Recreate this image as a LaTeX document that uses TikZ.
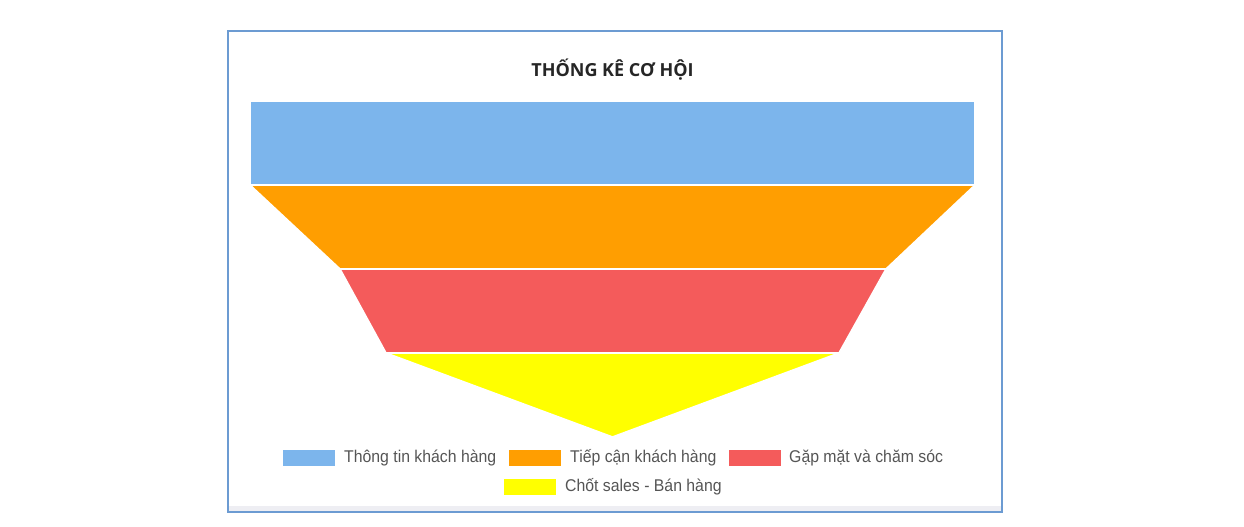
\documentclass[tikz,border=0pt]{standalone}
\usepackage{fontspec}
\setmainfont{Liberation Sans}
\newfontfamily\titlefont{Open Sans}
\newfontfamily\legfont[FakeStretch=0.93]{Liberation Sans}
\definecolor{cblue}{HTML}{7CB5EC}
\definecolor{corange}{HTML}{FF9E01}
\definecolor{cred}{HTML}{F45B5B}
\definecolor{cyellow}{HTML}{FFFF00}
\definecolor{cframe}{HTML}{6C9BD2}
\definecolor{cband}{HTML}{EEEEF3}
\definecolor{ctext}{HTML}{555555}
\tikzset{
  seg/.style={draw=white, line width=1.6pt, line join=round},
  swatch/.style={minimum width=52pt, minimum height=16pt, inner sep=0pt, anchor=west},
  legtext/.style={font=\legfont\fontsize{17}{19}\selectfont, text=ctext, anchor=base west, inner sep=0pt},
}
\begin{document}
\begin{tikzpicture}[x=1pt,y=-1pt]
\useasboundingbox[fill=white] (0,0) rectangle (1244,527);
% frame
\fill[cband] (229,506) rectangle (1001,511);
\draw[cframe, line width=1.2pt] (228,31) rectangle (1002,512);
% title
\node[font=\titlefont\bfseries\fontsize{18}{21}\selectfont, text=black!85] (title) at (612.5,70) {THỐNG KÊ CƠ HỘI};
% funnel
\filldraw[seg, fill=cblue] (250,101) -- (975,101) -- (975,185) -- (250,185) -- cycle;
\filldraw[seg, fill=corange] (250,185) -- (975,185) -- (886,269) -- (340,269) -- cycle;
\filldraw[seg, fill=cred] (340,269) -- (886,269) -- (839,353) -- (386,353) -- cycle;
\filldraw[seg, fill=cyellow] (386,353) -- (839,353) -- (612.5,437) -- cycle;
% legend
\node[swatch, fill=cblue] (s1) at (283,457.5) {};
\node[legtext] (l1) at (344,462) {Thông tin khách hàng};
\node[swatch, fill=corange] (s2) at (509,457.5) {};
\node[legtext] (l2) at (570,462) {Tiếp cận khách hàng};
\node[swatch, fill=cred] (s3) at (729,457.5) {};
\node[legtext] (l3) at (789,462) {Gặp mặt và chăm sóc};
\node[swatch, fill=cyellow] (s4) at (504,487) {};
\node[legtext] (l4) at (565,491.5) {Chốt sales - Bán hàng};
\end{tikzpicture}
\end{document}
